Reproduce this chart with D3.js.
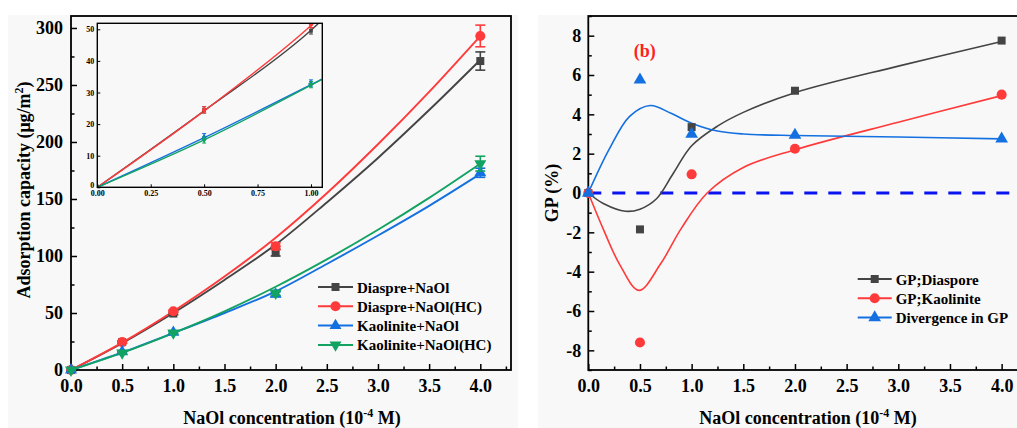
<!DOCTYPE html>
<html>
<head>
<meta charset="utf-8">
<script src="https://cdn.jsdelivr.net/npm/d3@7"></script>
<style>
  body { margin: 0; background: #fff; }
  svg { display: block; }
  svg text { font-family: "Liberation Serif", "Times New Roman", "DejaVu Serif", serif !important; font-weight: bold; }
</style>
</head>
<body>
<svg id="chart" width="1017" height="428"></svg>
<script>
// ---- data ----
var conc = [0, 0.5, 1.0, 2.0, 4.0];

var diaspre    = [0, 24.5, 49.5, 103, 271];
var diaspreHC  = [0, 24.5, 51.5, 108.5, 293];
var kaol       = [0, 16, 33, 66.5, 173];
var kaolHC     = [0, 15, 32.5, 67.5, 181];
var diaspreErr   = [0, 1, 1, 3, 8];
var diaspreHCErr = [0, 1, 1, 3, 9.5];
var kaolErr      = [0, 1, 1, 2, 4];
var kaolHCErr    = [0, 1, 1, 2, 6.5];

// fitted curves drawn in panel (a)
var fitX          = [0, 0.5, 1, 1.5, 2, 2.5, 3, 3.5, 4];
var diaspreFit    = [0, 23.5, 50, 79, 110, 147, 186, 228, 272];
var diaspreHCFit  = [0, 24, 51.5, 82, 116, 155, 198, 244, 293];
var kaolFit       = [0, 15.5, 32.5, 50, 69, 93, 118, 144, 172];
var kaolHCFit     = [0, 15, 32.3, 51.5, 73, 97, 123, 151, 181];

// inset (0 - 1.05)
var insetFitX         = [0, 0.5, 1, 1.05];
var insetDiaspreFit   = [0, 24.2, 49.7, 52.8];
var insetDiaspreHCFit = [0, 24.2, 51.2, 54.3];
var insetKaolFit      = [0, 15.7, 32.5, 34.2];
var insetKaolHCFit    = [0, 15, 32.3, 34.1];

// panel (b)
var gpDiaspore  = [0, -1.85, 3.35, 5.2, 7.75];
var gpKaolinite = [0, -7.6, 0.95, 2.25, 5.0];
var divergence  = [0, 5.75, 3.0, 2.95, 2.75];

var gpDiasporeFitX = [0, 0.15, 0.36, 0.5, 0.66, 0.82, 1, 1.25, 1.5, 2, 3, 4];
var gpDiasporeFit  = [0, -0.55, -0.93, -0.82, -0.29, 0.98, 2.4, 3.4, 4.1, 5.1, 6.45, 7.7];
var gpKaolFitX     = [0, 0.15, 0.3, 0.49, 0.7, 0.9, 1.15, 1.5, 2, 3, 4];
var gpKaolFit      = [0, -1.9, -3.6, -4.95, -3.6, -1.8, 0, 1.3, 2.2, 3.6, 4.95];
var divFitX        = [0, 0.2, 0.4, 0.6, 0.8, 1, 1.25, 1.5, 2, 3, 4];
var divFit         = [0, 2.2, 3.9, 4.45, 4.05, 3.55, 3.15, 3.0, 2.92, 2.85, 2.75];

var ticksA  = [0, 0.5, 1, 1.5, 2, 2.5, 3, 3.5, 4];
var yTicksA = [0, 50, 100, 150, 200, 250, 300];
var yTicksB = [-8, -6, -4, -2, 0, 2, 4, 6, 8];
var insetXTicks = [0, 0.25, 0.5, 0.75, 1.0];
var insetYTicks = [0, 10, 20, 30, 40, 50];

var namesA = ["Diaspre+NaOl", "Diaspre+NaOl(HC)", "Kaolinite+NaOl", "Kaolinite+NaOl(HC)"];
var namesB = ["GP;Diaspore", "GP;Kaolinite", "Divergence in GP"];

var gray = "#444444", red = "#ff3a3a", blue = "#1470e0", green = "#12a262";

var svg = d3.select("#chart");

// light gray figure background
svg.append("rect").attr("x", 8).attr("y", 15).attr("width", 510).attr("height", 413).attr("fill", "#f8f8f8");
svg.append("rect").attr("x", 538).attr("y", 15).attr("width", 479).attr("height", 413).attr("fill", "#f8f8f8");

var symSquare = d3.symbol().type(d3.symbolSquare),
    symCircle = d3.symbol().type(d3.symbolCircle),
    symTri    = d3.symbol().type(d3.symbolTriangle);

function drawAxes(g, x, y, w, h, opt) {
  g.append("g").attr("transform", "translate(0," + h + ")")
    .call(d3.axisBottom(x).tickValues(opt.xMinor).tickSize(-opt.minor).tickFormat(""))
    .call(function(a) { a.select(".domain").remove(); });
  g.append("g").attr("transform", "translate(0," + h + ")")
    .call(d3.axisBottom(x).tickValues(opt.xTicks).tickSize(-opt.major).tickPadding(opt.pad).tickFormat(opt.xFmt))
    .call(function(a) { a.select(".domain").remove(); })
    .selectAll("text").style("font-size", opt.font + "px").attr("fill", "#000");
  g.append("g")
    .call(d3.axisLeft(y).tickValues(opt.yMinor).tickSize(-opt.minor).tickFormat(""))
    .call(function(a) { a.select(".domain").remove(); });
  g.append("g")
    .call(d3.axisLeft(y).tickValues(opt.yTicks).tickSize(-opt.major).tickPadding(opt.ypad).tickFormat(opt.yFmt))
    .call(function(a) { a.select(".domain").remove(); })
    .selectAll("text").style("font-size", opt.font + "px").attr("fill", "#000");
  g.selectAll(".tick line").attr("stroke", "#000").attr("stroke-width", opt.tickW);
  g.append("rect").attr("width", w).attr("height", h)
    .attr("fill", "none").attr("stroke", "#000").attr("stroke-width", opt.frameW);
}

function zipXY(xs, ys) { return xs.map(function(v, i) { return [v, ys[i]]; }); }

function marker(g, type, cx, cy, size, color) {
  var p;
  if (type === "square") p = symSquare.size(size)();
  else if (type === "circle") p = symCircle.size(size)();
  else p = symTri.size(size)();
  var t = "translate(" + cx + "," + cy + ")";
  if (type === "down") t += " rotate(180)";
  g.append("path").attr("d", p).attr("transform", t).attr("fill", color);
}

// ================= panel (a) =================
var aL = 71, aT = 16, aW = 440, aH = 354;
var ga = svg.append("g").attr("transform", "translate(" + aL + "," + aT + ")");
var xa = d3.scaleLinear().domain([0, 4.3]).range([0, aW]);
var ya = d3.scaleLinear().domain([0, 310.5]).range([aH, 0]);

drawAxes(ga, xa, ya, aW, aH, {
  xTicks: ticksA, xMinor: d3.range(0.25, 4.3, 0.5), xFmt: d3.format(".1f"),
  yTicks: yTicksA, yMinor: d3.range(25, 310, 50), yFmt: d3.format("d"),
  major: 6, minor: 3.5, pad: 9, ypad: 8, font: 18, tickW: 1.5, frameW: 1.8
});

var seriesA = [
  {vals: diaspre,   err: diaspreErr,   fit: diaspreFit,   ifit: insetDiaspreFit,   color: gray,  sym: "square", size: 64},
  {vals: diaspreHC, err: diaspreHCErr, fit: diaspreHCFit, ifit: insetDiaspreHCFit, color: red,   sym: "circle", size: 80},
  {vals: kaol,      err: kaolErr,      fit: kaolFit,      ifit: insetKaolFit,      color: blue,  sym: "tri",    size: 62},
  {vals: kaolHC,    err: kaolHCErr,    fit: kaolHCFit,    ifit: insetKaolHCFit,    color: green, sym: "down",   size: 62}
];

var lineA = d3.line().curve(d3.curveMonotoneX)
  .x(function(d) { return xa(d[0]); }).y(function(d) { return ya(d[1]); });

seriesA.forEach(function(s) {
  ga.append("path").attr("d", lineA(zipXY(fitX, s.fit)))
    .attr("fill", "none").attr("stroke", s.color).attr("stroke-width", 1.9);
});
seriesA.forEach(function(s) {
  conc.forEach(function(c, i) {
    var cx = xa(c), e = s.err[i];
    if (e > 0) {
      var y1 = ya(s.vals[i] + e), y2 = ya(s.vals[i] - e);
      ga.append("line").attr("x1", cx).attr("x2", cx).attr("y1", y1).attr("y2", y2).attr("stroke", s.color).attr("stroke-width", 1.6);
      [y1, y2].forEach(function(yy) {
        ga.append("line").attr("x1", cx - 5).attr("x2", cx + 5).attr("y1", yy).attr("y2", yy).attr("stroke", s.color).attr("stroke-width", 1.6);
      });
    }
    marker(ga, s.sym, cx, ya(s.vals[i]), s.size, s.color);
  });
});

// legend (a)
var legA = svg.append("g").attr("transform", "translate(318,287)");
seriesA.forEach(function(s, i) {
  var row = legA.append("g").attr("transform", "translate(0," + (i * 19.3) + ")");
  row.append("line").attr("x1", 0).attr("x2", 35).attr("stroke", s.color).attr("stroke-width", 2);
  marker(row, s.sym, 17.5, 0, s.size, s.color);
  row.append("text").attr("x", 39).attr("y", 5.5).style("font-size", "15px").attr("fill", "#000").text(namesA[i]);
});

ga.append("text").attr("x", 49).attr("y", 36).attr("text-anchor", "middle").attr("fill", "#ff2020").style("font-size", "18px").text("(a)");

// inset
var iL = 97.3, iT = 23.3, iW = 225, iH = 164;
var gi = svg.append("g").attr("transform", "translate(" + iL + "," + iT + ")");
var xi = d3.scaleLinear().domain([0, 1.053]).range([0, iW]);
var yi = d3.scaleLinear().domain([0, 51.9]).range([iH, 0]);
gi.append("rect").attr("width", iW).attr("height", iH).attr("fill", "#f8f8f8");
svg.append("clipPath").attr("id", "insetClip").append("rect").attr("width", iW).attr("height", iH);

var lineI = d3.line().curve(d3.curveMonotoneX)
  .x(function(d) { return xi(d[0]); }).y(function(d) { return yi(d[1]); });
var gic = gi.append("g").attr("clip-path", "url(#insetClip)");
seriesA.forEach(function(s) {
  gic.append("path").attr("d", lineI(zipXY(insetFitX, s.ifit)))
    .attr("fill", "none").attr("stroke", s.color).attr("stroke-width", 1.4);
});
seriesA.forEach(function(s) {
  conc.forEach(function(c, i) {
    if (c > 1.05) return;
    var cx = xi(c);
    if (s.err[i] > 0) {
      var y1 = yi(s.vals[i] + s.err[i]), y2 = yi(s.vals[i] - s.err[i]);
      gic.append("line").attr("x1", cx).attr("x2", cx).attr("y1", y1).attr("y2", y2).attr("stroke", s.color).attr("stroke-width", 1);
      [y1, y2].forEach(function(yy) {
        gic.append("line").attr("x1", cx - 2).attr("x2", cx + 2).attr("y1", yy).attr("y2", yy).attr("stroke", s.color).attr("stroke-width", 1);
      });
    }
    marker(gic, s.sym, cx, yi(s.vals[i]), 14, s.color);
  });
});
drawAxes(gi, xi, yi, iW, iH, {
  xTicks: insetXTicks, xMinor: [], xFmt: d3.format(".2f"),
  yTicks: insetYTicks, yMinor: [], yFmt: d3.format("d"),
  major: 3, minor: 2, pad: 3, ypad: 3, font: 8, tickW: 1, frameW: 1.4
});
// lift the inset's "0" y label a touch so it clears "0.00"
gi.selectAll("g.tick text").filter(function(d) { return d === 0 && d3.select(this).attr("x") < 0; })
  .attr("dy", "0.05em");

// axis titles (a)
svg.append("text").attr("transform", "translate(30,190) rotate(-90)").attr("text-anchor", "middle")
  .style("font-size", "18px").attr("fill", "#000")
  .html('Adsorption capacity (μg/m<tspan baseline-shift="super" style="font-size:12px">2</tspan>)');
svg.append("text").attr("x", 292).attr("y", 424).attr("text-anchor", "middle")
  .style("font-size", "18px").attr("fill", "#000")
  .html('NaOl concentration (10<tspan baseline-shift="super" style="font-size:12px">-4</tspan> M)');

// ================= panel (b) =================
var bL = 588.3, bT = 16, bW = 434, bH = 354;
var gb = svg.append("g").attr("transform", "translate(" + bL + "," + bT + ")");
var xb = d3.scaleLinear().domain([0, 4.2]).range([0, bW]);
var yb = d3.scaleLinear().domain([-9, 9]).range([bH, 0]);

drawAxes(gb, xb, yb, bW, bH, {
  xTicks: ticksA, xMinor: d3.range(0.25, 4.2, 0.5), xFmt: d3.format(".1f"),
  yTicks: yTicksB, yMinor: d3.range(-9, 9.5, 2), yFmt: function(d) { return String(d); },
  major: 6, minor: 3.5, pad: 9, ypad: 7, font: 18, tickW: 1.5, frameW: 1.8
});

gb.append("line").attr("x1", 0).attr("x2", bW).attr("y1", yb(0)).attr("y2", yb(0))
  .attr("stroke", "#0a14f0").attr("stroke-width", 3).attr("stroke-dasharray", "13,11");

var seriesB = [
  {vals: gpDiaspore,  fx: gpDiasporeFitX, fy: gpDiasporeFit, color: gray, sym: "square", size: 64},
  {vals: gpKaolinite, fx: gpKaolFitX,     fy: gpKaolFit,     color: red,  sym: "circle", size: 80},
  {vals: divergence,  fx: divFitX,        fy: divFit,        color: blue, sym: "tri",    size: 70}
];
var lineB = d3.line().curve(d3.curveCatmullRom.alpha(0.5))
  .x(function(d) { return xb(d[0]); }).y(function(d) { return yb(d[1]); });
seriesB.forEach(function(s) {
  gb.append("path").attr("d", lineB(zipXY(s.fx, s.fy)))
    .attr("fill", "none").attr("stroke", s.color).attr("stroke-width", 1.6);
});
seriesB.forEach(function(s) {
  conc.forEach(function(c, i) { marker(gb, s.sym, xb(c), yb(s.vals[i]), s.size, s.color); });
});

var legB = svg.append("g").attr("transform", "translate(857.7,279)");
seriesB.forEach(function(s, i) {
  var row = legB.append("g").attr("transform", "translate(0," + (i * 19.3) + ")");
  row.append("line").attr("x1", 0).attr("x2", 34).attr("stroke", s.color).attr("stroke-width", 2);
  marker(row, s.sym, 17, 0, s.size, s.color);
  row.append("text").attr("x", 38).attr("y", 5.5).style("font-size", "15px").attr("fill", "#000").text(namesB[i]);
});

gb.append("text").attr("x", 56.5).attr("y", 41).attr("text-anchor", "middle").attr("fill", "#ff2020").style("font-size", "18px").text("(b)");

svg.append("text").attr("transform", "translate(558,193) rotate(-90)").attr("text-anchor", "middle")
  .style("font-size", "18px").attr("fill", "#000").text("GP (%)");
svg.append("text").attr("x", 808).attr("y", 424).attr("text-anchor", "middle")
  .style("font-size", "18px").attr("fill", "#000")
  .html('NaOl concentration (10<tspan baseline-shift="super" style="font-size:12px">-4</tspan> M)');
</script>
</body>
</html>
